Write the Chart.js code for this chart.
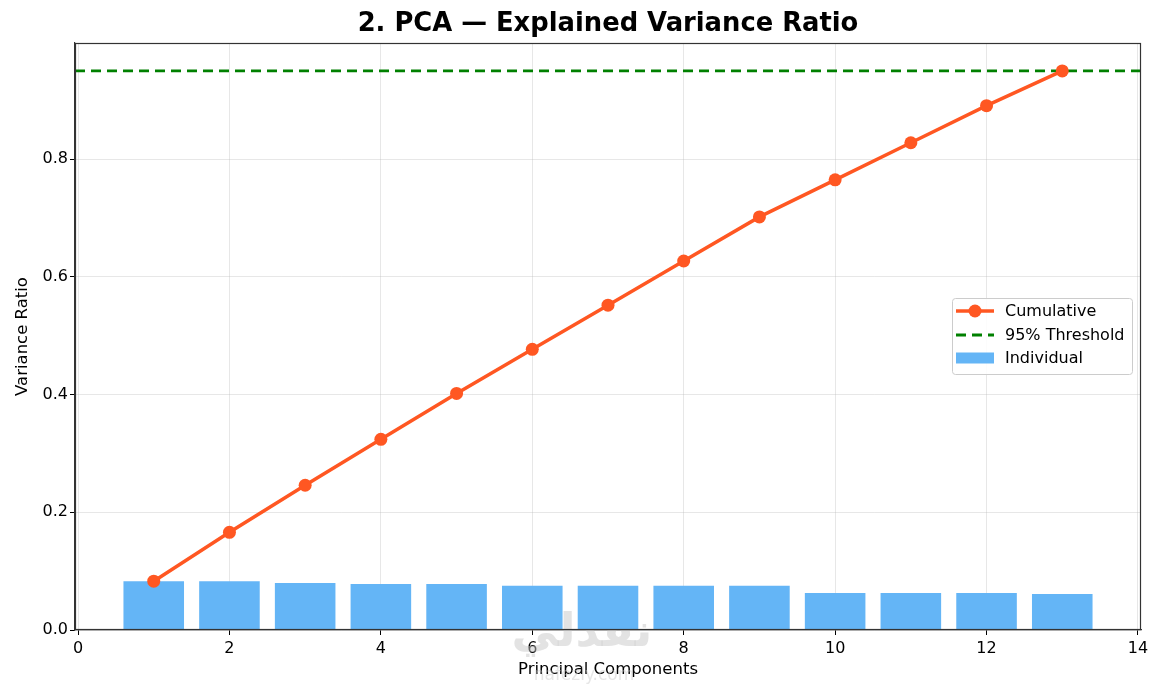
<!DOCTYPE html>
<html>
<head>
<meta charset="utf-8">
<script src="https://cdn.jsdelivr.net/npm/chart.js@4"></script>
<style>
  html, body { margin: 0; padding: 0; background: #fff; }
  #wrap { width: 1165px; height: 687px; }
</style>
</head>
<body>
<div id="wrap"><canvas id="myChart" width="1165" height="687"></canvas></div>
<script>
const components = [1, 2, 3, 4, 5, 6, 7, 8, 9, 10, 11, 12, 13];
const individual = [0.083, 0.083, 0.080, 0.078, 0.078, 0.075, 0.075, 0.075, 0.075, 0.063, 0.063, 0.063, 0.061];
const cumulative = [0.083, 0.166, 0.246, 0.324, 0.402, 0.477, 0.552, 0.627, 0.702, 0.765, 0.828, 0.891, 0.950];
const threshold = 0.95;
const xTicks = [0, 2, 4, 6, 8, 10, 12, 14];
const yTicks = [0.0, 0.2, 0.4, 0.6, 0.8];

const X_MIN = -0.04, X_MAX = 14.04;
const Y_MIN = 0, Y_MAX = 0.9975;

const FONT = "'DejaVu Sans', sans-serif";
const ORANGE = '#FF5722';
const BLUE = '#64B5F6';
const GREEN = '#008000';

// title, frame, legend and watermark drawn by hand, matplotlib-like
const extras = {
  id: 'extras',
  beforeDatasetsDraw(chart) {
    const {ctx} = chart;
    ctx.save();
    ctx.fillStyle = 'rgba(200,200,200,0.5)';
    ctx.font = "bold 46px 'DejaVu Sans', sans-serif";
    ctx.textAlign = 'center';
    ctx.textBaseline = 'middle';
    ctx.fillText('نفذلي', 582, 634);
    ctx.restore();
  },
  afterDraw(chart) {
    const {ctx, chartArea: a} = chart;
    ctx.save();
    // frame
    ctx.strokeStyle = '#333';
    ctx.lineWidth = 1.2;
    ctx.strokeRect(a.left + 0.5, a.top + 0.5, a.right - a.left - 1, a.bottom - a.top - 1);

    // title
    ctx.fillStyle = '#000';
    ctx.font = "bold 25.8px " + FONT;
    ctx.textAlign = 'center';
    ctx.textBaseline = 'middle';
    ctx.fillText('2. PCA — Explained Variance Ratio', 608, 24);

    // watermark url
    ctx.fillStyle = 'rgba(200,200,200,0.45)';
    ctx.font = "17px " + FONT;
    ctx.fillText('nafezly.com', 584, 676);

    // legend
    const lx = 952, ly = 298, lw = 180, lh = 76;
    ctx.fillStyle = 'rgba(255,255,255,0.85)';
    ctx.strokeStyle = '#cccccc';
    ctx.lineWidth = 1;
    ctx.beginPath();
    ctx.roundRect(lx + 0.5, ly + 0.5, lw, lh, 3);
    ctx.fill();
    ctx.stroke();

    ctx.font = "16px " + FONT;
    ctx.textAlign = 'left';
    const rows = [311, 335, 358];
    // Cumulative
    ctx.strokeStyle = ORANGE;
    ctx.lineWidth = 3.5;
    ctx.setLineDash([]);
    ctx.beginPath(); ctx.moveTo(956, rows[0]); ctx.lineTo(994, rows[0]); ctx.stroke();
    ctx.fillStyle = ORANGE;
    ctx.beginPath(); ctx.arc(975, rows[0], 6.5, 0, Math.PI * 2); ctx.fill();
    // threshold
    ctx.strokeStyle = GREEN;
    ctx.lineWidth = 2.8;
    ctx.setLineDash([10, 6]);
    ctx.beginPath(); ctx.moveTo(956, rows[1]); ctx.lineTo(994, rows[1]); ctx.stroke();
    ctx.setLineDash([]);
    // individual
    ctx.fillStyle = BLUE;
    ctx.fillRect(956, rows[2] - 5.5, 38, 11);

    ctx.fillStyle = '#000';
    ctx.fillText('Cumulative', 1005, rows[0] + 1);
    ctx.fillText('95% Threshold', 1005, rows[1] + 1);
    ctx.fillText('Individual', 1005, rows[2] + 1);
    ctx.restore();
  }
};

let myChart;
const setup = () => {
  const ctxt = document.getElementById('myChart').getContext('2d');
  myChart = new Chart(ctxt, {
    data: {
      datasets: [
        {
          type: 'line',
          label: 'Cumulative',
          data: components.map((c, i) => ({x: c, y: cumulative[i]})),
          borderColor: ORANGE,
          backgroundColor: ORANGE,
          borderWidth: 3.5,
          pointRadius: 6.5,
          pointHoverRadius: 6.5,
          pointBorderWidth: 0,
          tension: 0,
          order: 1
        },
        {
          type: 'line',
          label: '95% Threshold',
          data: [{x: X_MIN, y: threshold}, {x: X_MAX, y: threshold}],
          borderColor: GREEN,
          borderWidth: 2.8,
          borderDash: [10, 6],
          pointRadius: 0,
          order: 2
        },
        {
          type: 'bar',
          label: 'Individual',
          data: components.map((c, i) => ({x: c, y: individual[i]})),
          backgroundColor: BLUE,
          borderWidth: 0,
          barPercentage: 0.8,
          categoryPercentage: 1.0,
          order: 3
        }
      ]
    },
    options: {
      responsive: false,
      animation: false,
      layout: { padding: { top: 43, right: 24, left: 13, bottom: 7 } },
      plugins: {
        legend: { display: false },
        tooltip: { enabled: false }
      },
      scales: {
        x: {
          type: 'linear',
          offset: false,
          min: X_MIN,
          max: X_MAX,
          afterBuildTicks: s => { s.ticks = xTicks.map(v => ({value: v})); },
          afterFit: s => { s.height = 50; },
          ticks: {
            color: '#000',
            font: { family: FONT, size: 16 },
            padding: 4,
            maxRotation: 0,
            callback: v => String(v)
          },
          grid: {
            offset: false,
            color: 'rgba(176,176,176,0.3)',
            tickColor: '#000',
            tickLength: 5,
            drawTicks: true
          },
          border: { color: '#333', width: 1.2 },
          title: {
            display: true,
            text: 'Principal Components',
            color: '#000',
            font: { family: FONT, size: 16.5 },
            padding: { top: 0, bottom: 0 }
          }
        },
        y: {
          type: 'linear',
          min: Y_MIN,
          max: Y_MAX,
          afterBuildTicks: s => { s.ticks = yTicks.map(v => ({value: v})); },
          afterFit: s => { s.width = 62; },
          ticks: {
            color: '#000',
            font: { family: FONT, size: 16 },
            padding: 2,
            callback: v => Number(v).toFixed(1)
          },
          grid: {
            color: 'rgba(176,176,176,0.3)',
            tickColor: '#000',
            tickLength: 5,
            drawTicks: true
          },
          border: { color: '#333', width: 1.2 },
          title: {
            display: true,
            text: 'Variance Ratio',
            color: '#000',
            font: { family: FONT, size: 16.5 },
            padding: { top: 0, bottom: 2 }
          }
        }
      }
    },
    plugins: [extras]
  });
};

window.addEventListener('DOMContentLoaded', setup);
</script>
</body>
</html>
